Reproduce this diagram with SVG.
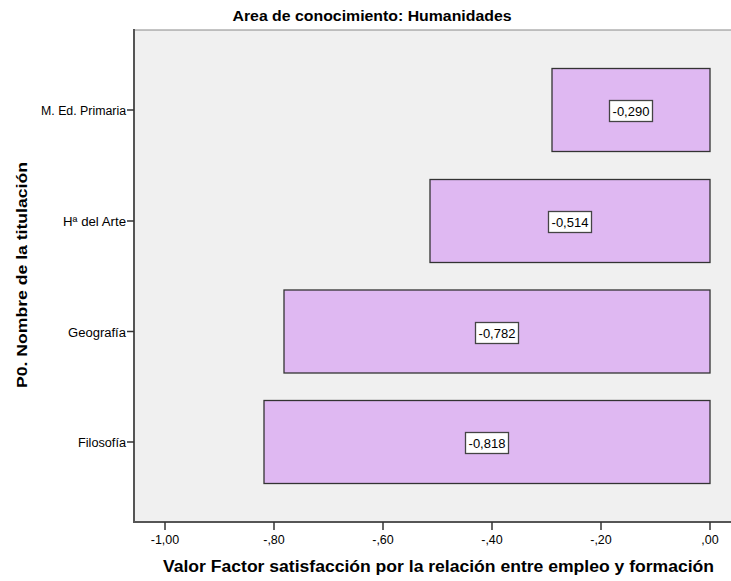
<svg xmlns="http://www.w3.org/2000/svg" width="731" height="581" viewBox="0 0 731 581">
<style>
text{font-family:"Liberation Sans",Arial,sans-serif;fill:#000}
.bar{fill:#DFB8F2;stroke:#333;stroke-width:1.3}
.lbl{fill:#fff;stroke:#444;stroke-width:1.3}
.v{font-size:13px;text-anchor:middle}
.cat{font-size:12px;text-anchor:end}
.tk{font-size:12.5px;text-anchor:middle}
.axis{stroke:#555;stroke-width:2;fill:none}
.tick{stroke:#333;stroke-width:1.5}
</style>
<rect x="0" y="0" width="731" height="581" fill="#fff"/>
<text x="372" y="21" font-size="14" font-weight="bold" text-anchor="middle" textLength="279" lengthAdjust="spacingAndGlyphs">Area de conocimiento: Humanidades</text>
<g id="plot">
<rect x="134" y="30" width="597" height="492" fill="#F0F0F0"/>
<line x1="134" y1="30" x2="731" y2="30" stroke="#888" stroke-width="1"/>
<path class="axis" d="M134,29 V522 H731"/>
</g>
<g id="yaxis">
<line class="tick" x1="127" y1="110" x2="134" y2="110"/>
<line class="tick" x1="127" y1="221" x2="134" y2="221"/>
<line class="tick" x1="127" y1="331.5" x2="134" y2="331.5"/>
<line class="tick" x1="127" y1="442" x2="134" y2="442"/>
<text class="cat" x="126" y="115" textLength="85" lengthAdjust="spacingAndGlyphs">M. Ed. Primaria</text>
<text class="cat" x="126" y="226" textLength="63" lengthAdjust="spacingAndGlyphs">Hª del Arte</text>
<text class="cat" x="126" y="336.5" textLength="58" lengthAdjust="spacingAndGlyphs">Geografía</text>
<text class="cat" x="126" y="447" textLength="48" lengthAdjust="spacingAndGlyphs">Filosofía</text>
<text x="0" y="0" font-size="15" font-weight="bold" text-anchor="middle" transform="translate(27,275) rotate(-90)" textLength="226" lengthAdjust="spacingAndGlyphs">P0. Nombre de la titulación</text>
</g>
<g id="xaxis">
<line class="tick" x1="165" y1="522" x2="165" y2="530"/>
<line class="tick" x1="274" y1="522" x2="274" y2="530"/>
<line class="tick" x1="383" y1="522" x2="383" y2="530"/>
<line class="tick" x1="492" y1="522" x2="492" y2="530"/>
<line class="tick" x1="601" y1="522" x2="601" y2="530"/>
<line class="tick" x1="710" y1="522" x2="710" y2="530"/>
<text class="tk" x="165" y="544">-1,00</text>
<text class="tk" x="274" y="544">-,80</text>
<text class="tk" x="383" y="544">-,60</text>
<text class="tk" x="492" y="544">-,40</text>
<text class="tk" x="601" y="544">-,20</text>
<text class="tk" x="710" y="544">,00</text>
<text x="438.5" y="572" font-size="16" font-weight="bold" text-anchor="middle" textLength="551" lengthAdjust="spacingAndGlyphs">Valor Factor satisfacción por la relación entre empleo y formación</text>
</g>
<g id="bar-primaria">
<rect class="bar" x="552" y="68.5" width="158" height="83"/>
<rect class="lbl" x="609.5" y="100.5" width="43" height="21"/>
<text class="v" x="631" y="115.5">-0,290</text>
</g>
<g id="bar-arte">
<rect class="bar" x="430" y="179.5" width="280" height="83"/>
<rect class="lbl" x="548.5" y="211.5" width="43" height="21"/>
<text class="v" x="570" y="226.5">-0,514</text>
</g>
<g id="bar-geografia">
<rect class="bar" x="284" y="290" width="426" height="83"/>
<rect class="lbl" x="475.5" y="322.5" width="43" height="21"/>
<text class="v" x="497" y="337.5">-0,782</text>
</g>
<g id="bar-filosofia">
<rect class="bar" x="264" y="400.5" width="446" height="83"/>
<rect class="lbl" x="465.5" y="432.5" width="43" height="21"/>
<text class="v" x="487" y="447.5">-0,818</text>
</g>
</svg>
